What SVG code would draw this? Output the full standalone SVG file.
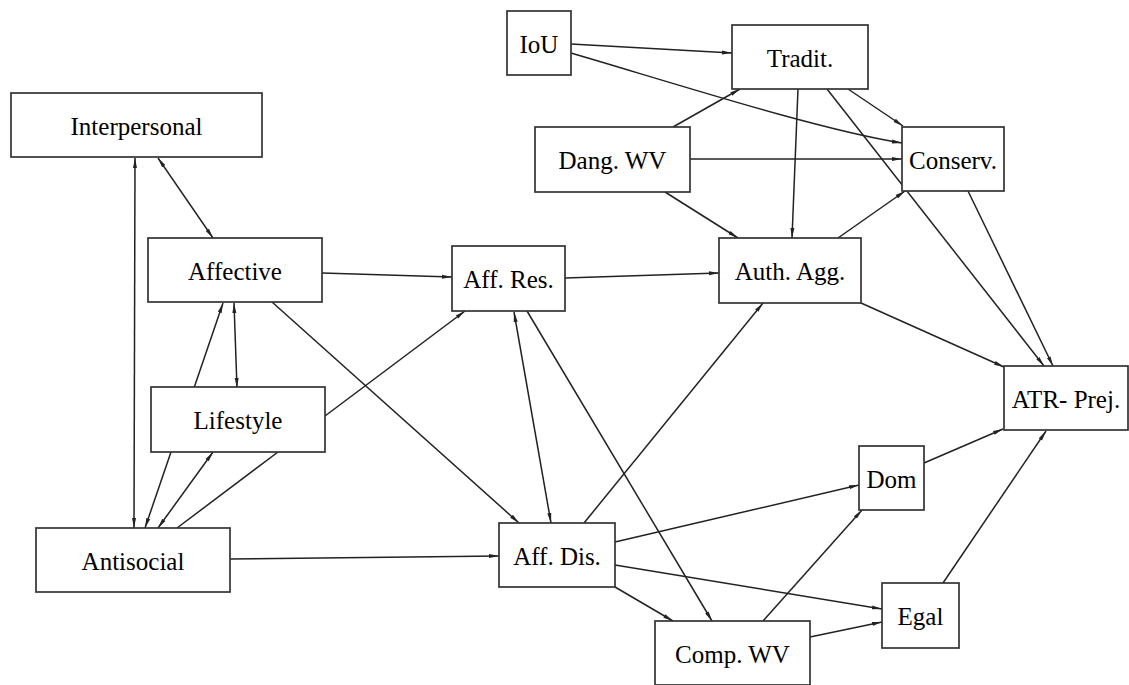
<svg xmlns="http://www.w3.org/2000/svg" width="1129" height="685" viewBox="0 0 1129 685">
<style>
.n rect{fill:#fff;stroke:#333;stroke-width:1.7}
.n text{font-family:"Liberation Serif","Times New Roman",serif;font-size:25px;fill:#000;text-anchor:middle}
.e path{fill:none;stroke:#222;stroke-width:1.5;marker-end:url(#ah)}
.e path.b{marker-start:url(#ah)}
.e path.p{marker-end:none}
</style>
<defs>
<marker id="ah" viewBox="0 0 10 6" refX="10" refY="3" markerWidth="10" markerHeight="6" markerUnits="userSpaceOnUse" orient="auto-start-reverse">
<path d="M0,1 L10,3 L0,5 z" fill="#222"/>
</marker>
</defs>
<rect width="1129" height="685" fill="#fff"/>
<g id="connectors" class="e">
<path d="M571,44 L732,53"/>
<path d="M571,53 C680,85 820,130 902,143"/>
<path d="M673,127 L740,89"/>
<path d="M690,159 L902,159"/>
<path d="M665,192 L738,238"/>
<path d="M798,89 L792,238"/>
<path d="M848,89 L903,126"/>
<path d="M827,89 L1044,366"/>
<path d="M968,191 L1053,366"/>
<path d="M838,238 L905,191"/>
<path d="M861,303 L1004,367"/>
<path class="b" d="M158,158 L213,238"/>
<path class="b" d="M135,158 L134,528"/>
<path d="M322,273 L452,277"/>
<path d="M272,302 L519,523"/>
<path d="M194,388 L223,303"/>
<path class="b" d="M234,303 L237,388"/>
<path d="M325,416 L465,311"/>
<path d="M171,452 L145,528"/>
<path class="b" d="M213,452 L158,528"/>
<path class="p" d="M278,452 L177,528"/>
<path d="M230,559 L499,556"/>
<path d="M565,278 L719,273"/>
<path class="b" d="M514,312 L551,523"/>
<path d="M527,311 L712,621"/>
<path d="M584,523 L763,303"/>
<path d="M615,542 L859,485"/>
<path d="M615,565 L882,609"/>
<path d="M615,587 L673,621"/>
<path d="M763,621 L862,510"/>
<path d="M810,637 L882,622"/>
<path d="M924,463 L1003,429"/>
<path d="M943,583 L1046,431"/>
</g>
<g id="IoU" class="n"><rect x="507" y="11" width="64" height="64"/><text x="539" y="52.7">IoU</text></g>
<g id="Tradit" class="n"><rect x="732" y="25" width="136" height="64"/><text x="800" y="66.7">Tradit.</text></g>
<g id="Interpersonal" class="n"><rect x="11" y="93" width="251" height="64"/><text x="136.5" y="134.7">Interpersonal</text></g>
<g id="DangWV" class="n"><rect x="535" y="127" width="155" height="65"/><text x="612.5" y="168.7">Dang. WV</text></g>
<g id="Conserv" class="n"><rect x="902" y="127" width="102" height="64"/><text x="953" y="168.7">Conserv.</text></g>
<g id="Affective" class="n"><rect x="148" y="238" width="174" height="64"/><text x="235" y="279.7">Affective</text></g>
<g id="AffRes" class="n"><rect x="452" y="246" width="113" height="65"/><text x="508.5" y="288.2">Aff. Res.</text></g>
<g id="AuthAgg" class="n"><rect x="719" y="238" width="142" height="65"/><text x="790" y="280.2">Auth. Agg.</text></g>
<g id="ATRPrej" class="n"><rect x="1004" y="366" width="124" height="64"/><text x="1066" y="407.7">ATR- Prej.</text></g>
<g id="Lifestyle" class="n"><rect x="151" y="387" width="174" height="65"/><text x="238" y="429.2">Lifestyle</text></g>
<g id="Dom" class="n"><rect x="859" y="446" width="65" height="64"/><text x="891.5" y="487.7">Dom</text></g>
<g id="Antisocial" class="n"><rect x="36" y="528" width="194" height="64"/><text x="133" y="569.7">Antisocial</text></g>
<g id="AffDis" class="n"><rect x="499" y="523" width="116" height="64"/><text x="557" y="564.7">Aff. Dis.</text></g>
<g id="Egal" class="n"><rect x="882" y="583" width="77" height="65"/><text x="920.5" y="625.2">Egal</text></g>
<g id="CompWV" class="n"><rect x="655" y="621" width="155" height="64"/><text x="732.5" y="662.7">Comp. WV</text></g>
</svg>
